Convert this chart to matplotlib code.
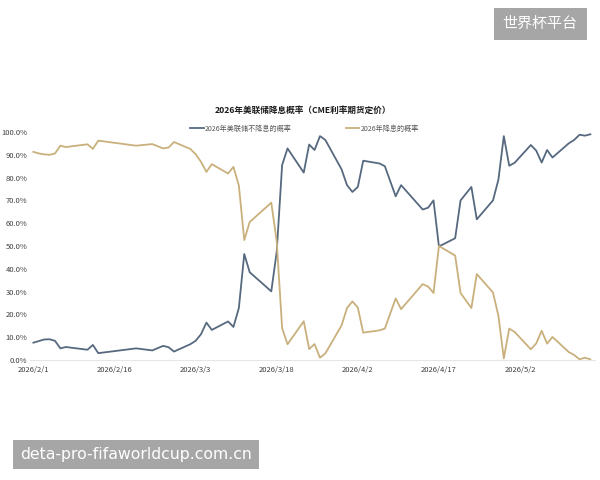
import numpy as np
import pandas as pd
import matplotlib
matplotlib.use("Agg")
import matplotlib.pyplot as plt

plt.rcParams['font.family'] = ['Noto Sans CJK SC', 'DejaVu Sans']

# day offsets from 2026-02-01 and probabilities (%)
days = [0, 1, 2, 3, 4, 5, 6, 10, 11, 12, 19, 22, 24, 25, 26, 29, 30, 31, 32, 33,
        36, 37, 38, 39, 40, 44, 45, 46, 47, 50, 51, 52, 53, 54, 57, 58, 59, 60, 61,
        64, 65, 67, 68, 72, 73, 74, 75, 78, 79, 81, 82, 85, 86, 87, 88, 89, 92, 93,
        94, 95, 96, 99, 100, 101, 102, 103]
no_cut = [7.6, 8.3, 9.0, 9.1, 8.4, 5.1, 5.7, 4.5, 6.6, 3.0, 5.1, 4.2, 6.2, 5.6, 3.7,
          6.9, 8.4, 11.3, 16.4, 13.2, 16.9, 14.5, 22.8, 46.5, 38.5, 30.1, 47.5, 85.5,
          92.8, 82.2, 94.5, 92.1, 98.2, 96.5, 83.6, 76.7, 73.7, 75.9, 87.4, 86.2, 85.0,
          71.8, 76.7, 66.0, 66.8, 70.0, 49.8, 53.4, 70.0, 75.9, 61.7, 70.0, 79.1, 98.2,
          85.2, 86.5, 94.3, 91.8, 86.6, 92.1, 88.8, 95.0, 96.5, 98.8, 98.4, 99.0]
cut = [91.3, 90.6, 90.2, 90.0, 90.6, 94.0, 93.4, 94.6, 92.6, 96.2, 94.0, 94.7, 92.8,
       93.2, 95.6, 92.6, 90.3, 86.9, 82.5, 85.9, 81.8, 84.7, 76.5, 52.6, 60.5, 69.0,
       52.0, 14.0, 6.9, 17.0, 4.8, 7.0, 1.0, 2.9, 15.2, 22.8, 25.7, 23.0, 12.0, 13.0,
       13.8, 27.0, 22.3, 33.3, 32.2, 29.4, 50.0, 45.8, 29.4, 22.8, 37.7, 29.6, 19.4,
       0.7, 13.8, 12.3, 4.7, 7.3, 12.8, 7.2, 10.1, 3.5, 2.2, 0.3, 1.0, 0.3]
tick_days = [0, 15, 30, 45, 60, 75, 90]

start = pd.Timestamp("2026-02-01")
dates = [start + pd.Timedelta(days=d) for d in days]
tick_dates = [start + pd.Timedelta(days=d) for d in tick_days]

fig = plt.figure(figsize=(6, 4.8), dpi=100)
ax = fig.add_axes([0.05, 0.25, 0.942, 0.475])

ax.plot(dates, no_cut, color="#56697f", lw=1.3, label="2026年美联储不降息的概率", clip_on=False)
ax.plot(dates, cut, color="#c9b07c", lw=1.3, label="2026年降息的概率", clip_on=False)

ax.set_ylim(0, 100)
ax.set_xlim(start - pd.Timedelta(hours=15), start + pd.Timedelta(days=103.9))
ax.set_yticks(np.arange(0, 101, 10))
ax.set_yticklabels([f"{v:.1f}%" for v in range(0, 101, 10)])
ax.set_xticks(tick_dates)
ax.set_xticklabels([f"{d.year}/{d.month}/{d.day}" for d in tick_dates])
ax.tick_params(axis="both", length=0, labelsize=5.5, colors="#404040")
ax.tick_params(axis="x", pad=4.5)
ax.tick_params(axis="y", pad=2)

for s in ["top", "right", "left"]:
    ax.spines[s].set_visible(False)
ax.spines["bottom"].set_color("#e6e6e6")
ax.spines["bottom"].set_linewidth(0.8)

fig.text(0.505, 0.771, "2026年美联储降息概率（CME利率期货定价）", ha="center", va="center",
         fontsize=6.2, fontweight="bold", color="#1a1a1a")
ax.legend(loc="center", bbox_to_anchor=(0.486, 1.014), ncol=2, frameon=False,
          fontsize=5.1, labelcolor="#595959", handlelength=1.9, handletextpad=0.2,
          columnspacing=7.6)

# watermark boxes
fig.text(0.9, 0.95, "世界杯平台", ha="center", va="center", fontsize=10.8, color="white",
         bbox=dict(boxstyle="square,pad=0.6", fc="#a6a6a6", ec="none"))
fig.text(0.227, 0.053, "deta-pro-fifaworldcup.com.cn", ha="center", va="center",
         fontsize=11.3, color="white", family=["DejaVu Sans"],
         bbox=dict(boxstyle="square,pad=0.45", fc="#a6a6a6", ec="none"))

fig.savefig("out.png", dpi=100)
